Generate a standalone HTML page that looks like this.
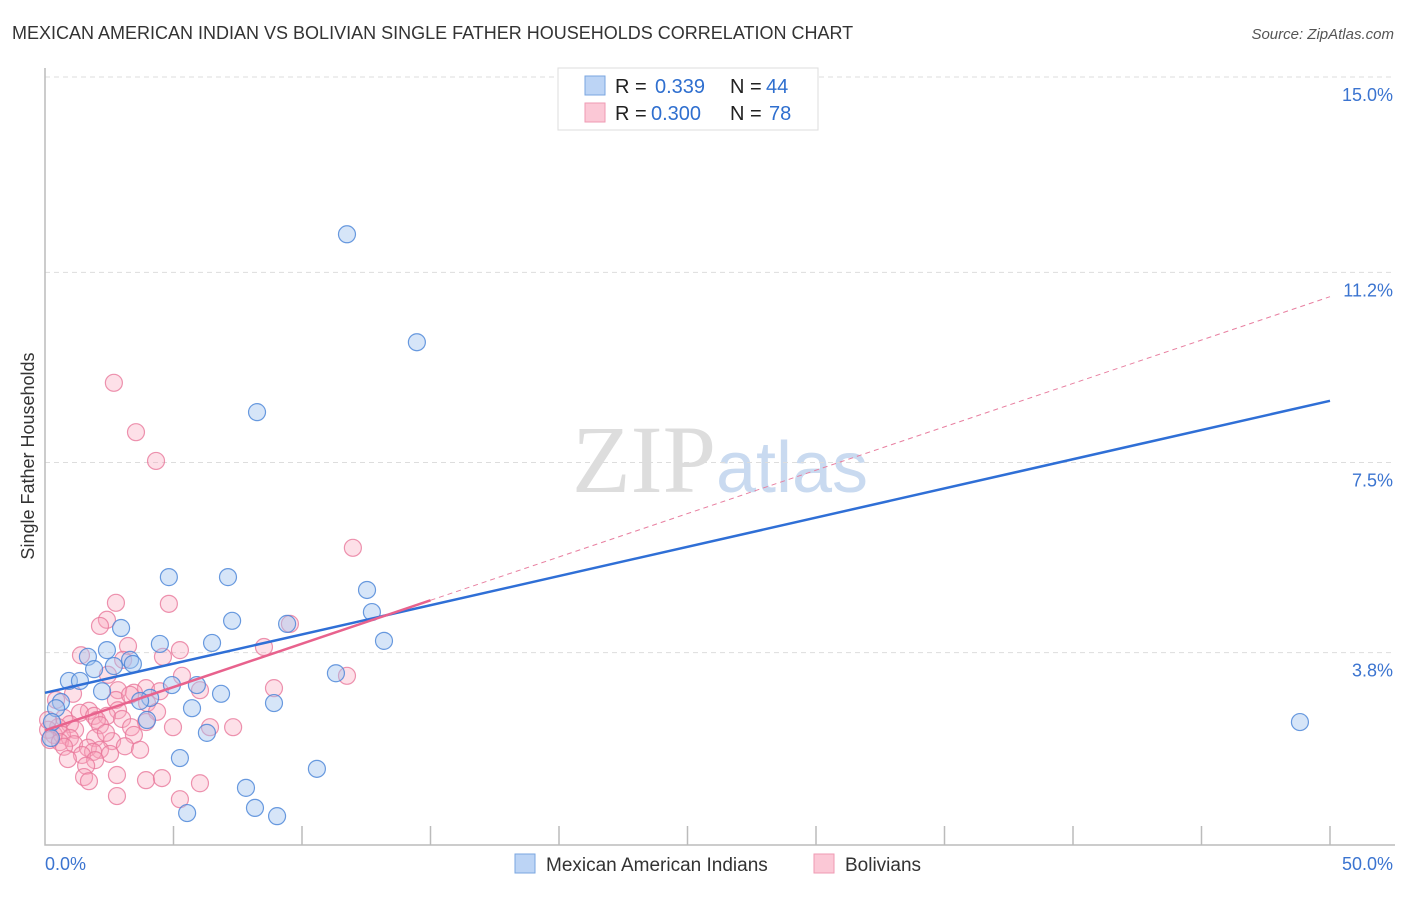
<!DOCTYPE html>
<html><head><meta charset="utf-8"><style>
body{margin:0;background:#fff;font-family:"Liberation Sans",sans-serif;}
</style></head><body>
<svg id="c" width="1406" height="892" xmlns="http://www.w3.org/2000/svg">
<text x="12" y="39" font-size="18" fill="#333">MEXICAN AMERICAN INDIAN VS BOLIVIAN SINGLE FATHER HOUSEHOLDS CORRELATION CHART</text>
<text x="1394" y="39" font-size="15" fill="#555" font-style="italic" text-anchor="end">Source: ZipAtlas.com</text>
<text x="720" y="492" font-size="96" fill="#ddd" text-anchor="middle" font-family="Liberation Serif,serif">ZIP<tspan fill="#c9daf0" font-family="Liberation Sans,sans-serif" font-size="72">atlas</tspan></text>
<text transform="translate(34,456) rotate(-90)" font-size="18" fill="#333" text-anchor="middle">Single Father Households</text>
<g id="grid"></g><g id="axes"></g><g id="pts"></g><g id="lines"></g>
<g>
<rect x="558" y="68" width="260" height="62" fill="#fff" stroke="#ddd"/>
<rect x="585" y="76" width="20" height="19" fill="#bcd4f5" stroke="#7aa6e0"/>
<text x="615" y="93" font-size="20" fill="#222">R = </text><text x="655" y="93" font-size="20" fill="#2f6fcf">0.339</text>
<text x="730" y="93" font-size="20" fill="#222">N = </text><text x="766" y="93" font-size="20" fill="#2f6fcf">44</text>
<rect x="585" y="103" width="20" height="19" fill="#fbc8d6" stroke="#ef9ab3"/>
<text x="615" y="120" font-size="20" fill="#222">R = </text><text x="651" y="120" font-size="20" fill="#2f6fcf">0.300</text>
<text x="730" y="120" font-size="20" fill="#222">N = </text><text x="769" y="120" font-size="20" fill="#2f6fcf">78</text>
</g>
<g>
<rect x="515" y="854" width="20" height="19" fill="#bcd4f5" stroke="#7aa6e0"/>
<text x="546" y="871" font-size="19" fill="#333">Mexican American Indians</text>
<rect x="814" y="854" width="20" height="19" fill="#fbc8d6" stroke="#ef9ab3"/>
<text x="845" y="871" font-size="19" fill="#333">Bolivians</text>
</g>
</svg>
<script>
const blueX=[29.3,11.75,14.47,8.25,4.82,7.12,12.53,12.72,7.28,9.42,2.96,13.19,4.47,6.5,2.41,1.67,3.31,3.42,2.68,1.91,11.32,0.93,1.36,4.94,5.91,2.22,6.85,4.09,3.7,0.62,8.91,0.43,5.72,3.97,0.27,48.83,6.3,0.23,5.25,10.58,7.82,8.17,5.53,9.03];
const blueY=[14.79,11.94,9.84,8.48,5.27,5.27,5.02,4.59,4.42,4.36,4.28,4.03,3.97,3.99,3.85,3.72,3.66,3.58,3.54,3.48,3.4,3.25,3.25,3.17,3.17,3.05,3.0,2.92,2.86,2.84,2.82,2.72,2.72,2.49,2.45,2.45,2.24,2.14,1.75,1.54,1.17,0.78,0.68,0.62];
const pinkX=[2.68,3.54,4.32,11.98,2.76,4.82,2.41,2.14,9.53,3.23,5.25,8.52,1.4,4.59,2.45,11.75,8.91,3.93,2.84,4.47,3.46,1.09,5.33,2.76,0.43,3.97,2.84,1.71,1.36,1.91,2.41,4.36,0.74,2.02,3.0,3.93,4.98,7.32,6.42,3.35,0.97,2.14,0.51,1.17,0.12,0.35,0.66,0.97,3.46,1.95,0.19,0.58,1.13,2.61,3.11,1.67,0.74,2.14,1.87,2.53,1.44,0.89,1.95,1.6,2.8,1.52,1.71,3.93,4.55,6.03,2.8,5.25,3.31,2.37,3.04,6.03,0.12,3.7];
const pinkY=[9.05,8.09,7.53,5.84,4.77,4.75,4.44,4.32,4.36,3.93,3.85,3.91,3.75,3.72,3.37,3.35,3.11,3.11,3.07,3.05,3.02,3.0,3.35,2.88,2.88,2.82,2.68,2.67,2.63,2.57,2.57,2.65,2.53,2.49,2.51,2.45,2.35,2.35,2.35,2.35,2.41,2.39,2.35,2.3,2.3,2.2,2.2,2.14,2.2,2.14,2.1,2.06,2.02,2.08,1.98,1.95,1.97,1.91,1.87,1.83,1.81,1.73,1.71,1.6,1.42,1.38,1.3,1.32,1.36,1.26,1.01,0.95,2.98,2.24,3.66,3.07,2.49,1.91];
const yTicks=[3.8,7.5,11.2,15.0];
const yTickLabels=["3.8%","7.5%","11.2%","15.0%"];
const xTicks=[0,5,10,15,20,25,30,35,40,45,50];
const NS="http://www.w3.org/2000/svg";
const sx=v=>45+v*25.7, sy=v=>848-v*51.4;
function mk(parent,tag,attrs){const e=document.createElementNS(NS,tag);for(const k in attrs)e.setAttribute(k,attrs[k]);document.getElementById(parent).appendChild(e);return e;}
yTicks.forEach((t,i)=>{
 const l=mk('grid','line',{x1:45,x2:1395,y1:sy(t),y2:sy(t),stroke:'#ddd','stroke-dasharray':'5,4'});
 
 
 const tx=mk('grid','text',{x:1393,y:sy(t)+24,'font-size':18,fill:'#3b74d0','text-anchor':'end'});
 tx.textContent=yTickLabels[i];
 
 
});
const ax=mk('axes','path',{d:'M45,68 V845 H1395',fill:'none',stroke:'#bbb','stroke-width':1.5});


xTicks.forEach(t=>{if(t===0)return;const l=mk('axes','line',{x1:sx(t),x2:sx(t),y1:826,y2:845,stroke:'#bbb','stroke-width':1.5});
 
 });
[['0.0%',45,'start'],['50.0%',1393,'end']].forEach(a=>{const t=mk('axes','text',{x:a[1],y:870,'font-size':18,fill:'#3b74d0','text-anchor':a[2]});t.textContent=a[0];
 
 });
function pts(X,Y,fill,stroke,name){X.forEach((x,i)=>{const c=mk('pts','circle',{cx:sx(x),cy:sy(Y[i]),r:8.5,fill:fill,stroke:stroke,'stroke-width':1.2});
 
 });}
pts(pinkX,pinkY,'rgba(248,165,190,0.35)','rgba(232,120,155,0.8)','bolivian-point');
pts(blueX,blueY,'rgba(165,198,240,0.45)','rgba(70,130,215,0.8)','mexican-american-indian-point');
function fit(X,Y){const n=X.length;let mx=0,my=0;X.forEach((x,i)=>{mx+=x;my+=Y[i];});mx/=n;my/=n;let sxy=0,sxx=0;X.forEach((x,i)=>{sxy+=(x-mx)*(Y[i]-my);sxx+=(x-mx)**2;});const b=sxy/sxx;return [my-b*mx,b];}
const fb=fit(blueX,blueY), fp=fit(pinkX,pinkY);
const bl=mk('lines','line',{x1:sx(0),y1:sy(fb[0]),x2:sx(50),y2:sy(fb[0]+fb[1]*50),stroke:'#2f6fd6','stroke-width':2.5});


const pd=mk('lines','line',{x1:sx(15),y1:sy(fp[0]+fp[1]*15),x2:sx(50),y2:sy(fp[0]+fp[1]*50),stroke:'#e87fa0','stroke-width':1,'stroke-dasharray':'5,4'});


const pl=mk('lines','line',{x1:sx(0),y1:sy(fp[0]),x2:sx(15),y2:sy(fp[0]+fp[1]*15),stroke:'#e8628d','stroke-width':2.5});


</script>
</body></html>
